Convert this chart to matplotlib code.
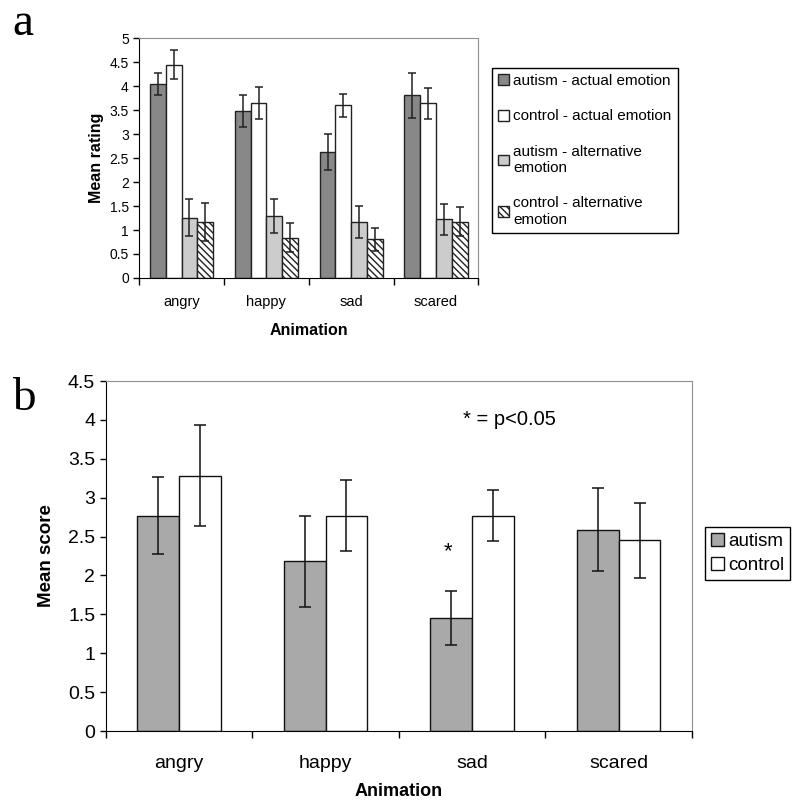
import numpy as np
import matplotlib.pyplot as plt

plt.rcParams['font.family'] = ['Liberation Sans', 'DejaVu Sans']

animations = ["angry", "happy", "sad", "scared"]

# panel a: mean rating
a_labels = ["autism - actual emotion", "control - actual emotion",
            "autism - alternative\nemotion", "control - alternative\nemotion"]
a_autism_actual = [4.05, 3.48, 2.63, 3.81]
a_autism_actual_err = [0.23, 0.34, 0.38, 0.47]
a_control_actual = [4.45, 3.65, 3.60, 3.64]
a_control_actual_err = [0.30, 0.33, 0.24, 0.33]
a_autism_alt = [1.26, 1.29, 1.17, 1.22]
a_autism_alt_err = [0.38, 0.35, 0.33, 0.33]
a_control_alt = [1.17, 0.84, 0.81, 1.17]
a_control_alt_err = [0.40, 0.30, 0.24, 0.30]

# panel b: mean score
b_labels = ["autism", "control"]
b_autism = [2.77, 2.18, 1.45, 2.59]
b_autism_err = [0.49, 0.59, 0.345, 0.53]
b_control = [3.28, 2.77, 2.77, 2.45]
b_control_err = [0.65, 0.46, 0.33, 0.48]

fig = plt.figure(figsize=(8, 8.02), dpi=100)
x = np.arange(len(animations))


def style_axes(ax, ymax, tick_size):
    ax.set_xlim(-0.5, len(animations) - 0.5)
    ax.set_ylim(0, ymax)
    ax.set_yticks(np.arange(0, ymax + 0.01, 0.5))
    ax.set_yticklabels([f"{v:g}" for v in np.arange(0, ymax + 0.01, 0.5)])
    ax.set_xticks(x)
    ax.set_xticklabels(animations)
    ax.set_xticks(np.arange(-0.5, len(animations)), minor=True)
    ax.tick_params(axis="x", which="major", length=0, labelsize=tick_size)
    ax.tick_params(axis="x", which="minor", length=5, direction="out", width=1)
    ax.tick_params(axis="y", length=4, width=1, labelsize=tick_size)
    for s in ["top", "right"]:
        ax.spines[s].set_color("#909090")
    for s in ["left", "bottom"]:
        ax.spines[s].set_color("black")


# ---- panel a ----
ax1 = fig.add_axes([0.174, 0.6534, 0.424, 0.299])
w = 0.186
err_kw = dict(ecolor="#222222", elinewidth=1.1, capsize=3, capthick=1.1)
series_a = [
    (a_autism_actual, a_autism_actual_err, "#888888", None),
    (a_control_actual, a_control_actual_err, "white", None),
    (a_autism_alt, a_autism_alt_err, "#cccccc", None),
    (a_control_alt, a_control_alt_err, "white", "\\\\\\\\\\"),
]
for i, (vals, errs, col, hatch) in enumerate(series_a):
    ax1.bar(x + (i - 1.5) * w, vals, w, yerr=errs, color=col, edgecolor="#222222",
            linewidth=1, hatch=hatch, label=a_labels[i], error_kw=err_kw)
style_axes(ax1, 5, 10)
ax1.tick_params(axis="x", which="major", labelsize=10.5, pad=12)
ax1.set_ylabel("Mean rating", fontsize=11.5, fontweight="bold", labelpad=4)
ax1.set_xlabel("Animation", fontsize=11.5, fontweight="bold", labelpad=10)
fig.legend(*ax1.get_legend_handles_labels(), loc="upper left",
           bbox_to_anchor=(492 / 800, 1 - 68 / 802), fontsize=11, frameon=True,
           fancybox=False, edgecolor="black", framealpha=1, handlelength=0.7,
           handleheight=0.7, handletextpad=0.3, labelspacing=1.4,
           borderpad=0.4, borderaxespad=0)

# ---- panel b ----
ax2 = fig.add_axes([0.132, 0.0885, 0.733, 0.4364])
wb = 0.284
err_kw_b = dict(ecolor="#111111", elinewidth=1.1, capsize=4.5, capthick=1.1)
ax2.bar(x - wb / 2, b_autism, wb, yerr=b_autism_err, color="#a9a9a9",
        edgecolor="#111111", linewidth=1, label=b_labels[0], error_kw=err_kw_b)
ax2.bar(x + wb / 2, b_control, wb, yerr=b_control_err, color="white",
        edgecolor="#111111", linewidth=1, label=b_labels[1], error_kw=err_kw_b)
style_axes(ax2, 4.5, 14)
ax2.tick_params(axis="x", which="major", pad=17)
ax2.set_ylabel("Mean score", fontsize=13.5, fontweight="bold", labelpad=9)
ax2.set_xlabel("Animation", fontsize=13, fontweight="bold", labelpad=8)
ax2.text(1.835, 2.3, "*", fontsize=16, ha="center", va="center")
ax2.text(1.94, 4.0, "* = p<0.05", fontsize=14.5, ha="left", va="center")
fig.legend(*ax2.get_legend_handles_labels(), loc="upper left",
           bbox_to_anchor=(705 / 800, 1 - 527 / 802), fontsize=13.5, frameon=True,
           fancybox=False, edgecolor="black", framealpha=1, handlelength=0.7,
           handleheight=0.7, handletextpad=0.25, labelspacing=0.4,
           borderpad=0.3, borderaxespad=0)

# panel letters
fig.text(12 / 800, 1 - 35 / 802, "a", fontsize=34, family=["Liberation Serif"])
fig.text(12 / 800, 1 - 410 / 802, "b", fontsize=34, family=["Liberation Serif"])

fig.savefig("out.png", dpi=100)
